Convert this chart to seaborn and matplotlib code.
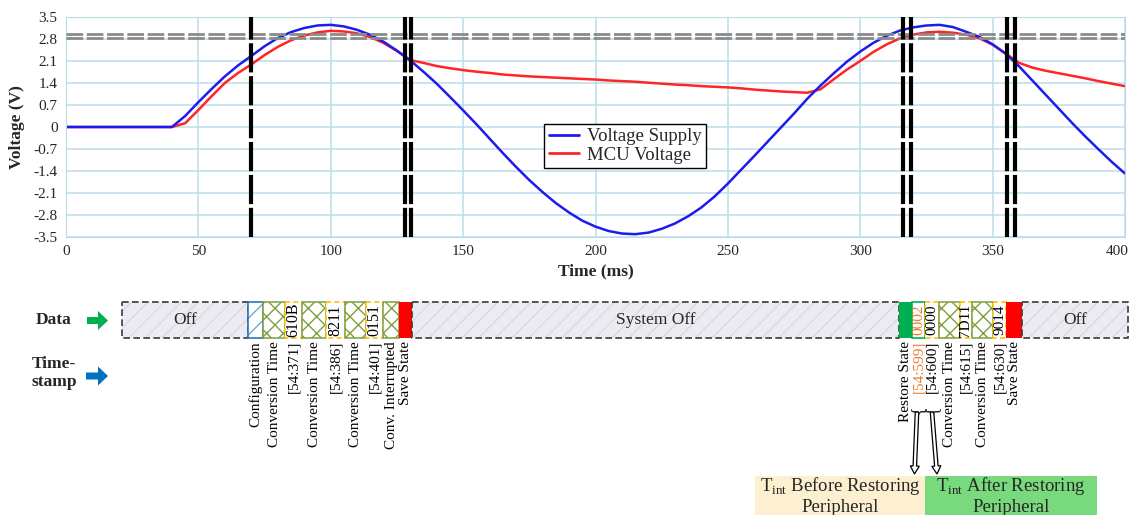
import numpy as np
import pandas as pd
import seaborn as sns
import matplotlib.pyplot as plt
import matplotlib.patches as mpatches
import matplotlib.transforms as mtrans

# ---- data (5 ms steps) ----
time_ms = list(range(0, 401, 5))
supply_v = [0, 0, 0, 0, 0, 0, 0, 0, 0,
            0.35, 0.79, 1.21, 1.61, 1.96, 2.26, 2.57, 2.83, 3.02, 3.15,
            3.23, 3.25, 3.20, 3.09, 2.93, 2.71, 2.43, 2.12, 1.76, 1.38,
            0.96, 0.53, 0.09, -0.37, -0.83, -1.27, -1.69, -2.07, -2.42, -2.72,
            -2.98, -3.17, -3.31, -3.39, -3.41, -3.36, -3.24, -3.07, -2.84, -2.56,
            -2.21, -1.80, -1.36, -0.92, -0.47, -0.02, 0.43, 0.90, 1.32, 1.71,
            2.08, 2.40, 2.68, 2.90, 3.07, 3.17, 3.23, 3.25, 3.18, 3.03,
            2.87, 2.63, 2.33, 1.93, 1.48, 1.03, 0.58, 0.13, -0.30, -0.71,
            -1.11, -1.48]
mcu_v = [0, 0, 0, 0, 0, 0, 0, 0, 0,
         0.12, 0.54, 0.98, 1.40, 1.72, 1.99, 2.29, 2.55, 2.76, 2.91,
         3.01, 3.06, 3.04, 2.98, 2.86, 2.67, 2.42, 2.13, 2.04, 1.94,
         1.87, 1.81, 1.76, 1.72, 1.67, 1.64, 1.61, 1.59, 1.57, 1.55,
         1.53, 1.51, 1.48, 1.46, 1.44, 1.41, 1.38, 1.35, 1.33, 1.30,
         1.28, 1.26, 1.23, 1.19, 1.16, 1.13, 1.11, 1.09, 1.20, 1.52,
         1.83, 2.10, 2.39, 2.63, 2.82, 2.94, 3.01, 3.03, 3.00, 2.94,
         2.82, 2.62, 2.33, 2.04, 1.89, 1.79, 1.71, 1.63, 1.55, 1.46,
         1.38, 1.30]
thresholds = [2.95, 2.83]
event_times = [70, 128, 130.5, 316, 319, 355.5, 358.5]
ytick_vals = [-3.5, -2.8, -2.1, -1.4, -0.7, 0, 0.7, 1.4, 2.1, 2.8, 3.5]
ytick_labels = ['-3.5', '-2.8', '-2.1', '-1.4', '-0.7', '0', '0.7', '1.4', '2.1', '2.8', '3.5']
xtick_vals = [0, 50, 100, 150, 200, 250, 300, 350, 400]

# ---- timeline diagram below ----
seg_edges = [122, 248, 263, 285, 302, 326, 345, 366, 383, 399, 412,
             899, 912, 925, 939, 960, 972, 993, 1006, 1022, 1128]
seg_kind = ['off', 'config', 'conv', 'data', 'conv', 'data', 'conv', 'data', 'conv', 'save',
            'off', 'restore', 'data0', 'data', 'conv', 'data', 'conv', 'data', 'save', 'off']
seg_text = ['Off', '', '', '610B', '', '8211', '', '0151', '', '',
            'System Off', '', '0002', '0000', '', '7D11', '', '9014', '', 'Off']
seg_label = ['', 'Configuration', 'Conversion Time', '[54:371]', 'Conversion Time', '[54:386]',
             'Conversion Time', '[54:401]', 'Conv. Interrupted', 'Save State', '',
             'Restore State', '[54:599]', '[54:600]', 'Conversion Time', '[54:615]',
             'Conversion Time', '[54:630]', 'Save State', '']

sns.set_style('white')
plt.rcParams['font.family'] = ['Liberation Serif', 'DejaVu Serif']
plt.rcParams['mathtext.fontset'] = 'custom'
plt.rcParams['mathtext.rm'] = 'Liberation Serif'
plt.rcParams['hatch.linewidth'] = 1.0

fig = plt.figure(figsize=(11.3, 5.15), dpi=100)
ax = fig.add_axes([66 / 1130, 1 - 237 / 515, 1059 / 1130, 220 / 515])

df = pd.DataFrame({
    'Time': time_ms + time_ms,
    'Voltage': supply_v + mcu_v,
    'Series': ['Voltage Supply'] * len(time_ms) + ['MCU Voltage'] * len(time_ms),
})
sns.lineplot(data=df, x='Time', y='Voltage', hue='Series',
             hue_order=['MCU Voltage', 'Voltage Supply'],
             palette={'Voltage Supply': '#1c1cf0', 'MCU Voltage': '#ff2525'},
             lw=1.8, ax=ax)

for y in thresholds:
    ax.axhline(y, color='#8a8a8a', lw=2, dashes=(6, 1.3), zorder=3)
for x in event_times:
    ax.axvline(x, color='black', lw=3, dashes=(7, 0.9), zorder=4)

ax.set_xlim(0, 400)
ax.set_ylim(-3.5, 3.5)
ax.set_xticks(xtick_vals)
ax.set_yticks(ytick_vals)
ax.set_yticklabels(ytick_labels)
ax.grid(True, color='#bcdde8', lw=1.1)
ax.set_axisbelow(True)
for sp in ax.spines.values():
    sp.set_color('#bcdde8')
ax.tick_params(length=0, labelsize=11, pad=6)
last = ax.get_xticklabels()[-1]
last.set_horizontalalignment('right')
last.set_transform(last.get_transform() + mtrans.ScaledTranslation(0.04, 0, fig.dpi_scale_trans))
ax.set_xlabel('Time (ms)', fontsize=12.5, fontweight='bold', labelpad=4)
ax.set_ylabel('Voltage (V)', fontsize=12.5, fontweight='bold', labelpad=6)

h, l = ax.get_legend_handles_labels()
order = [l.index('Voltage Supply'), l.index('MCU Voltage')]
leg = ax.legend([h[i] for i in order], [l[i] for i in order], loc='center',
                bbox_to_anchor=(0.528, 0.414), fancybox=False, edgecolor='black',
                framealpha=1, fontsize=13.5, handlelength=1.6, borderpad=0.25,
                labelspacing=0.05, handletextpad=0.4, borderaxespad=0)
leg.get_frame().set_linewidth(1.0)
for line in leg.get_lines():
    line.set_linewidth(2)

# lower panel in pixel coordinates
lax = fig.add_axes([0, 0, 1, 1])
lax.set_xlim(0, 1130)
lax.set_ylim(515, 0)
lax.axis('off')
lax.patch.set_alpha(0)

top, bot = 302, 338
hgt = bot - top
for i, kind in enumerate(seg_kind):
    x0, x1 = seg_edges[i], seg_edges[i + 1]
    w = x1 - x0
    cx = (x0 + x1) / 2
    if kind == 'off':
        lax.add_patch(mpatches.Rectangle((x0, top), w, hgt, fc='#ecebf1', ec='#dad9e2',
                                         hatch='//', lw=0))
        lax.add_patch(mpatches.Rectangle((x0, top), w, hgt, fill=False, ec='#3a3a3a',
                                         ls=(0, (4, 2)), lw=1.2))
        lax.text(cx, 320, seg_text[i], ha='center', va='center', fontsize=12.5)
    elif kind == 'config':
        lax.add_patch(mpatches.Rectangle((x0, top), w, hgt, fc='white', ec='#6fa8dc',
                                         hatch='//', lw=0))
        lax.add_patch(mpatches.Rectangle((x0, top), w, hgt, fill=False, ec='#2e75b6', lw=1.2))
    elif kind == 'conv':
        lax.add_patch(mpatches.Rectangle((x0, top), w, hgt, fc='white', ec='#7f9f3c',
                                         hatch='xx', lw=0))
        lax.add_patch(mpatches.Rectangle((x0, top), w, hgt, fill=False, ec='#7f9f3c', lw=1.1))
    elif kind in ('data', 'data0'):
        ec = '#00b050' if kind == 'data0' else '#ffc000'
        ls = '-' if kind == 'data0' else (0, (3, 2))
        tc = '#ed7d31' if kind == 'data0' else 'black'
        lax.add_patch(mpatches.Rectangle((x0, top), w, hgt, fc='white', ec=ec, ls=ls, lw=1.2))
        lax.text(cx, 320, seg_text[i], rotation=90, ha='center', va='center',
                 fontsize=11 if w < 16 else 11.5, color=tc)
    elif kind == 'save':
        lax.add_patch(mpatches.Rectangle((x0, top), w, hgt, fc='#ff0000', lw=0))
    elif kind == 'restore':
        lax.add_patch(mpatches.Rectangle((x0, top), w, hgt, fc='#00b050', lw=0))
    if seg_label[i]:
        lc = '#ed7d31' if kind == 'data0' else 'black'
        lax.text(cx, 341, seg_label[i], rotation=90, ha='center', va='top',
                 fontsize=11, color=lc)

# row headers
lax.text(54, 320, 'Data', ha='center', va='center', fontsize=12.5, fontweight='bold')
lax.text(54, 373, 'Time-\nstamp', ha='center', va='center', fontsize=12.5,
         fontweight='bold', linespacing=1.25)
lax.add_patch(mpatches.FancyArrow(87, 320.5, 21, 0, width=7, head_width=19, head_length=10,
                                  length_includes_head=True, color='#00b050', lw=0))
lax.add_patch(mpatches.FancyArrow(86, 376, 22, 0, width=7, head_width=19, head_length=10,
                                  length_includes_head=True, color='#0070c0', lw=0))

# braces + hollow arrows to the T_int boxes
for bx in (918.5, 932):
    lax.text(bx, 405, '{', rotation=90, ha='center', va='top', fontsize=13)
lax.add_patch(mpatches.FancyArrow(917, 412, -2.5, 62, width=3.5, head_width=9, head_length=8,
                                  length_includes_head=True, fc='white', ec='black', lw=0.9))
lax.add_patch(mpatches.FancyArrow(932, 412, 5, 62, width=3.5, head_width=9, head_length=8,
                                  length_includes_head=True, fc='white', ec='black', lw=0.9))

lax.add_patch(mpatches.Rectangle((755, 476), 170, 40, fc='#fdf0d0', lw=0))
lax.add_patch(mpatches.Rectangle((925, 476), 172, 40, fc='#79da7d', lw=0))
lax.text(840, 486, r'T$_{\rm int}$ Before Restoring', ha='center', va='center', fontsize=13.5)
lax.text(840, 507, 'Peripheral', ha='center', va='center', fontsize=13.5)
lax.text(1011, 486, r'T$_{\rm int}$ After Restoring', ha='center', va='center', fontsize=13.5)
lax.text(1011, 507, 'Peripheral', ha='center', va='center', fontsize=13.5)

fig.savefig('out.png', dpi=100)
